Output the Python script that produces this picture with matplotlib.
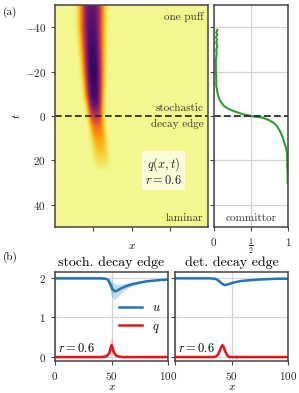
import numpy as np
import matplotlib
matplotlib.use("Agg")
import matplotlib.pyplot as plt

# STYLE
plt.rcParams['font.family'] = ['cmr10', 'DejaVu Serif']
plt.rcParams['mathtext.fontset'] = 'cm'
plt.rcParams['axes.formatter.use_mathtext'] = True
plt.rcParams['axes.unicode_minus'] = True
plt.rcParams['font.size'] = 8
plt.rcParams['axes.edgecolor'] = '#444444'
plt.rcParams['axes.linewidth'] = 1.1
plt.rcParams['xtick.color'] = '#444444'
plt.rcParams['ytick.color'] = '#444444'
plt.rcParams['xtick.labelcolor'] = '#222222'
plt.rcParams['ytick.labelcolor'] = '#222222'
plt.rcParams['xtick.major.size'] = 3
plt.rcParams['ytick.major.size'] = 3
plt.rcParams['grid.color'] = '#d4d4d4'
plt.rcParams['grid.linewidth'] = 0.9

# DATA
# (a) mean puff q(x,t): centre, width and strength at a few times
t_knots = [-50, -40, -30, -20, -10, -5, 0, 5, 10, 15, 20, 25]
puff_center = [24, 24, 24.5, 25, 25.5, 26, 26.5, 27.5, 28.5, 29.5, 30.5, 31]
puff_width = [5.6, 5.4, 5.0, 4.6, 4.1, 3.7, 3.4, 3.5, 3.6, 3.7, 3.8, 3.8]
puff_amp = [0.85, 0.9, 0.95, 1.0, 0.95, 0.85, 0.6, 0.36, 0.23, 0.15, 0.08, 0.0]

# committor against t
comm_t = [-38.8, -37.5, -36.5, -35.5, -34.5, -33, -31.5, -30, -28, -25, -21, -17,
          -13.8, -10, -7.7, -6, -4.4, -3.3, -2.4, -1.6, -0.8, 0, 0.8, 1.8,
          2.9, 4.5, 6.7, 9, 12, 14, 16.5, 19, 22.6, 26, 30]
comm_c = [0.045, 0.03, 0.045, 0.025, 0.04, 0.03, 0.045, 0.03, 0.035, 0.025, 0.025, 0.03,
          0.03, 0.05, 0.07, 0.1, 0.14, 0.19, 0.25, 0.32, 0.39, 0.5, 0.66, 0.74,
          0.8, 0.85, 0.89, 0.92, 0.95, 0.97, 0.985, 0.99, 0.99, 0.995, 0.995]

# (b) stochastic decay edge
xs_u = [0, 40, 45, 47, 49, 51, 53, 55, 58, 62, 67, 73, 80, 90, 100]
us = [1.99, 1.99, 1.98, 1.95, 1.84, 1.71, 1.66, 1.68, 1.73, 1.78, 1.83, 1.87, 1.91, 1.94, 1.96]
us_lo = [1.97, 1.97, 1.95, 1.85, 1.62, 1.48, 1.45, 1.5, 1.6, 1.7, 1.78, 1.84, 1.89, 1.93, 1.95]
us_hi = [2.01, 2.01, 2.01, 2.0, 1.97, 1.9, 1.85, 1.84, 1.85, 1.87, 1.9, 1.92, 1.94, 1.96, 1.98]
xs_q = [0, 40, 44, 46, 48, 49, 50, 51, 52, 54, 56, 60, 100]
qs = [0, 0, 0.01, 0.03, 0.1, 0.2, 0.3, 0.22, 0.12, 0.04, 0.015, 0, 0]
qs_lo = [-0.02, -0.02, -0.01, 0.0, 0.04, 0.1, 0.16, 0.1, 0.05, 0.01, 0.0, -0.02, -0.02]
qs_hi = [0.02, 0.02, 0.04, 0.1, 0.22, 0.38, 0.5, 0.38, 0.22, 0.09, 0.04, 0.02, 0.02]

# (b) deterministic decay edge
xd_u = [0, 30, 35, 37, 39, 41, 43, 44, 46, 49, 53, 58, 65, 75, 90, 100]
ud = [1.99, 1.99, 1.98, 1.96, 1.92, 1.87, 1.83, 1.82, 1.83, 1.86, 1.89, 1.92, 1.94, 1.96, 1.98, 1.98]
xd_q = [0, 34, 36, 38, 40, 41, 42, 43, 44, 46, 48, 100]
qd = [0, 0, 0.01, 0.06, 0.18, 0.26, 0.3, 0.26, 0.17, 0.05, 0.0, 0]

t_ticks = [-40, -20, 0, 20, 40]

# FIGURE
W, H = 299, 393
fig = plt.figure(figsize=(W / 100, H / 100), dpi=100)


def px_axes(x0, y0, x1, y1):
    return fig.add_axes([x0 / W, 1 - y1 / H, (x1 - x0) / W, (y1 - y0) / H])


ax_map = px_axes(55, 5, 208, 227)
ax_com = px_axes(214, 5, 288, 227)
ax_s = px_axes(55, 272, 168, 361)
ax_d = px_axes(175, 272, 288, 361)

# heatmap (flat-topped profile across x)
xg = np.linspace(0, 100, 200)
tg = np.linspace(-50, 50, 200)
c = np.interp(tg, t_knots, puff_center)
w = np.interp(tg, t_knots, puff_width)
a = np.interp(tg, t_knots, puff_amp, right=0)
field = a[:, None] * np.exp(-0.5 * np.abs((xg[None, :] - c[:, None]) / w[:, None]) ** 3)
ax_map.imshow(field, extent=[0, 100, 50, -50], aspect='auto', cmap='inferno_r',
              vmin=-0.03, vmax=1.2, interpolation='bilinear')
ax_map.set_xlim(0, 100)
ax_map.set_ylim(50, -50)
ax_map.set_xticks([25, 50, 75])
ax_map.set_xticklabels([])
ax_map.set_yticks(t_ticks)
ax_map.set_xlabel('$x$', labelpad=4)
ax_map.set_ylabel('$t$', labelpad=2)
ax_map.axhline(0, color='#222222', ls='--', lw=1.2, dashes=(4, 2))
tcol = '#333333'
ax_map.text(97, -47, 'one puff', ha='right', va='top', color=tcol)
ax_map.text(97, -1.5, 'stochastic', ha='right', va='bottom', color=tcol)
ax_map.text(97, 1.5, 'decay edge', ha='right', va='top', color=tcol)
ax_map.text(97, 48, 'laminar', ha='right', va='bottom', color=tcol)
ax_map.text(71, 25, '$q(x,t)$\n$r=0.6$', ha='center', va='center', color='#222222',
            linespacing=1.1, fontsize=9,
            bbox=dict(facecolor='white', alpha=0.65, edgecolor='none', pad=2))

# committor
ax_com.grid(True)
ax_com.set_axisbelow(True)
ax_com.plot(comm_c, comm_t, color='#2ca02c', lw=1.5)
ax_com.axhline(0, color='#222222', ls='--', lw=1.2, dashes=(4, 2))
ax_com.set_xlim(0, 1)
ax_com.set_ylim(50, -50)
ax_com.set_yticks(t_ticks)
ax_com.set_yticklabels([])
ax_com.set_xticks([0, 0.5, 1])
ax_com.set_xticklabels(['$0$', r'$\frac{1}{2}$', '$1$'])
ax_com.text(0.5, 48, 'committor', ha='center', va='bottom', color=tcol)

# bottom panels
blue = '#1f77b4'
red = '#e8141c'
for ax in (ax_s, ax_d):
    ax.grid(True)
    ax.set_axisbelow(True)
    ax.set_xlim(0, 100)
    ax.set_ylim(-0.1, 2.15)
    ax.set_xticks([0, 50, 100])
    ax.set_yticks([0, 1, 2])
    ax.set_xlabel('$x$', labelpad=0)
    ax.text(3, 0.06, '$r = 0.6$', ha='left', va='bottom', fontsize=9)

ax_s.fill_between(xs_u, us_lo, us_hi, color=blue, alpha=0.25, lw=0)
ax_s.fill_between(xs_q, qs_lo, qs_hi, color=red, alpha=0.25, lw=0)
ax_s.plot(xs_u, us, color=blue, lw=1.8, label='$u$')
ax_s.plot(xs_q, qs, color=red, lw=1.8, label='$q$')
ax_s.set_title('stoch. decay edge', fontsize=10, pad=4)
ax_s.legend(loc='center right', frameon=False, fontsize=9, handlelength=1.8,
            borderaxespad=0.2, bbox_to_anchor=(1.0, 0.48))

ax_d.plot(xd_u, ud, color=blue, lw=1.8)
ax_d.plot(xd_q, qd, color=red, lw=1.8)
ax_d.set_title('det. decay edge', fontsize=10, pad=4)
ax_d.set_yticklabels([])
ax_d.set_xticklabels(['', '$50$', '$100$'])

fig.text(0.01, 0.962, '(a)', fontsize=8)
fig.text(0.01, 0.338, '(b)', fontsize=8)

fig.savefig('out.png', dpi=100)
